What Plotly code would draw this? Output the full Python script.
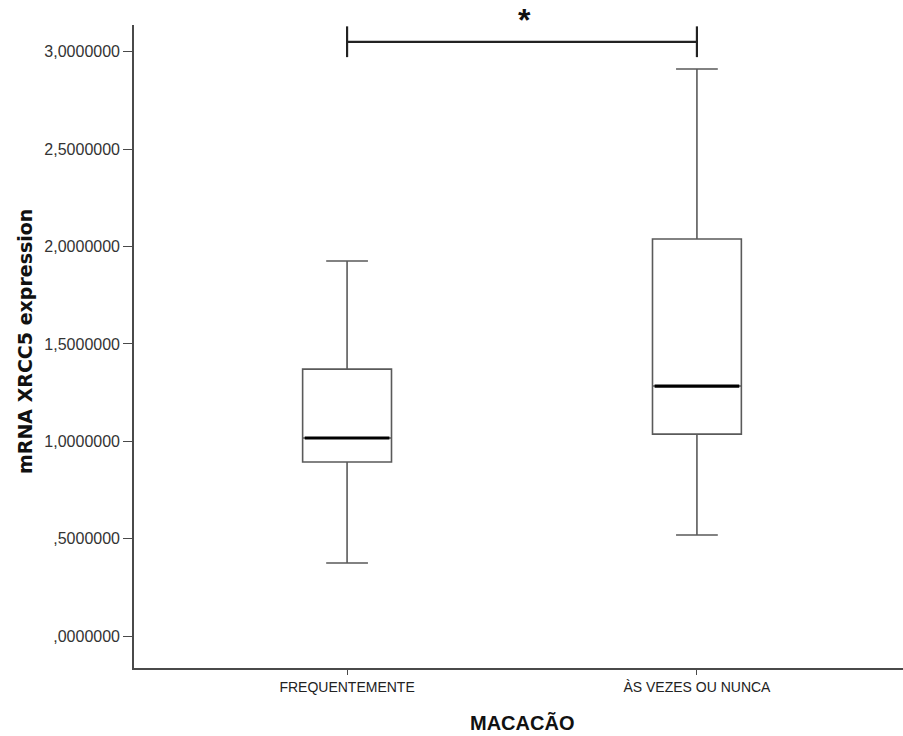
import plotly.graph_objects as go

categories = ["FREQUENTEMENTE", "ÀS VEZES OU NUNCA"]
lower_whisker = [0.375, 0.519]
q1 = [0.894, 1.037]
median = [1.017, 1.284]
q3 = [1.371, 2.039]
upper_whisker = [1.926, 2.912]
ytick_vals = [0.0, 0.5, 1.0, 1.5, 2.0, 2.5, 3.0]
ytick_text = [",0000000", ",5000000", "1,0000000", "1,5000000", "2,0000000", "2,5000000", "3,0000000"]
sig_pair = [0, 1]
sig_level = 3.051
sig_label = "*"

W, H = 903, 736
L, R, T, B = 134, 0, 25, 68
pw, ph = W - L - R, H - T - B

box_w = 0.254
xpos = list(range(len(categories)))
fig = go.Figure()
for i, c in enumerate(categories):
    fig.add_trace(go.Box(
        x=[xpos[i]], q1=[q1[i]], median=[median[i]], q3=[q3[i]],
        lowerfence=[lower_whisker[i]], upperfence=[upper_whisker[i]],
        width=box_w, whiskerwidth=0.47, fillcolor="white",
        line=dict(color="#5a5a5a", width=1.6), boxpoints=False,
        showlegend=False, name=c, hoverinfo="skip"))
    fig.add_trace(go.Scatter(
        x=[xpos[i] - box_w / 2 + 0.006, xpos[i] + box_w / 2 - 0.006],
        y=[median[i], median[i]], mode="lines",
        line=dict(color="black", width=3.2), showlegend=False, hoverinfo="skip"))

# significance bracket
fig.add_trace(go.Scatter(
    x=[sig_pair[0], sig_pair[0], None, sig_pair[0], sig_pair[1], None, sig_pair[1], sig_pair[1]],
    y=[sig_level + 0.08, sig_level - 0.078, None, sig_level, sig_level, None, sig_level + 0.08, sig_level - 0.078],
    mode="lines", line=dict(color="#222222", width=2.2), showlegend=False,
    hoverinfo="skip", cliponaxis=False))
fig.add_annotation(x=(sig_pair[0] + sig_pair[1]) / 2 + 0.008, y=sig_level + 0.01, yanchor="bottom",
                   text="<b>" + sig_label + "</b>", showarrow=False,
                   font=dict(size=32, color="#111111", family="Liberation Sans, Arial"))

fig.add_annotation(xref="paper", yref="paper", x=-(L - 25) / pw, y=(H - B - 342) / ph,
                   text="<b>mRNA XRCC5 expression</b>", textangle=-90, showarrow=False,
                   xanchor="center", yanchor="middle",
                   font=dict(size=19, color="#111111", family="DejaVu Sans, Liberation Sans"))
fig.add_annotation(xref="paper", yref="paper", x=(522 - L) / pw, y=-(723 - (H - B)) / ph,
                   text="<b>MACACÃO</b>", showarrow=False, xanchor="center", yanchor="middle",
                   font=dict(size=20, color="#111111", family="Liberation Sans, Arial"))

fig.update_layout(
    width=W, height=H,
    margin=dict(l=L, r=R, t=T, b=B, autoexpand=False),
    plot_bgcolor="white", paper_bgcolor="white",
    xaxis=dict(range=[-0.609, 1.589], tickvals=xpos, ticktext=categories,
               showline=True, linecolor="#4a4a4a", linewidth=1.6, showgrid=False,
               zeroline=False, ticks="outside", ticklen=5, tickcolor="#4a4a4a",
               tickfont=dict(size=14, color="#222222", family="Liberation Sans, Arial")),
    yaxis=dict(range=[-0.164, 3.138], tickvals=ytick_vals, ticktext=ytick_text,
               showline=True, linecolor="#4a4a4a", linewidth=1.6, showgrid=False,
               zeroline=False, ticks="outside", ticklen=9, tickcolor="#4a4a4a",
               tickfont=dict(size=16, color="#333333", family="Liberation Sans, Arial")),
)
fig.write_html("out.html", config={"displayModeBar": False},
               post_script="document.body.style.margin='0';document.body.style.overflow='hidden';")
